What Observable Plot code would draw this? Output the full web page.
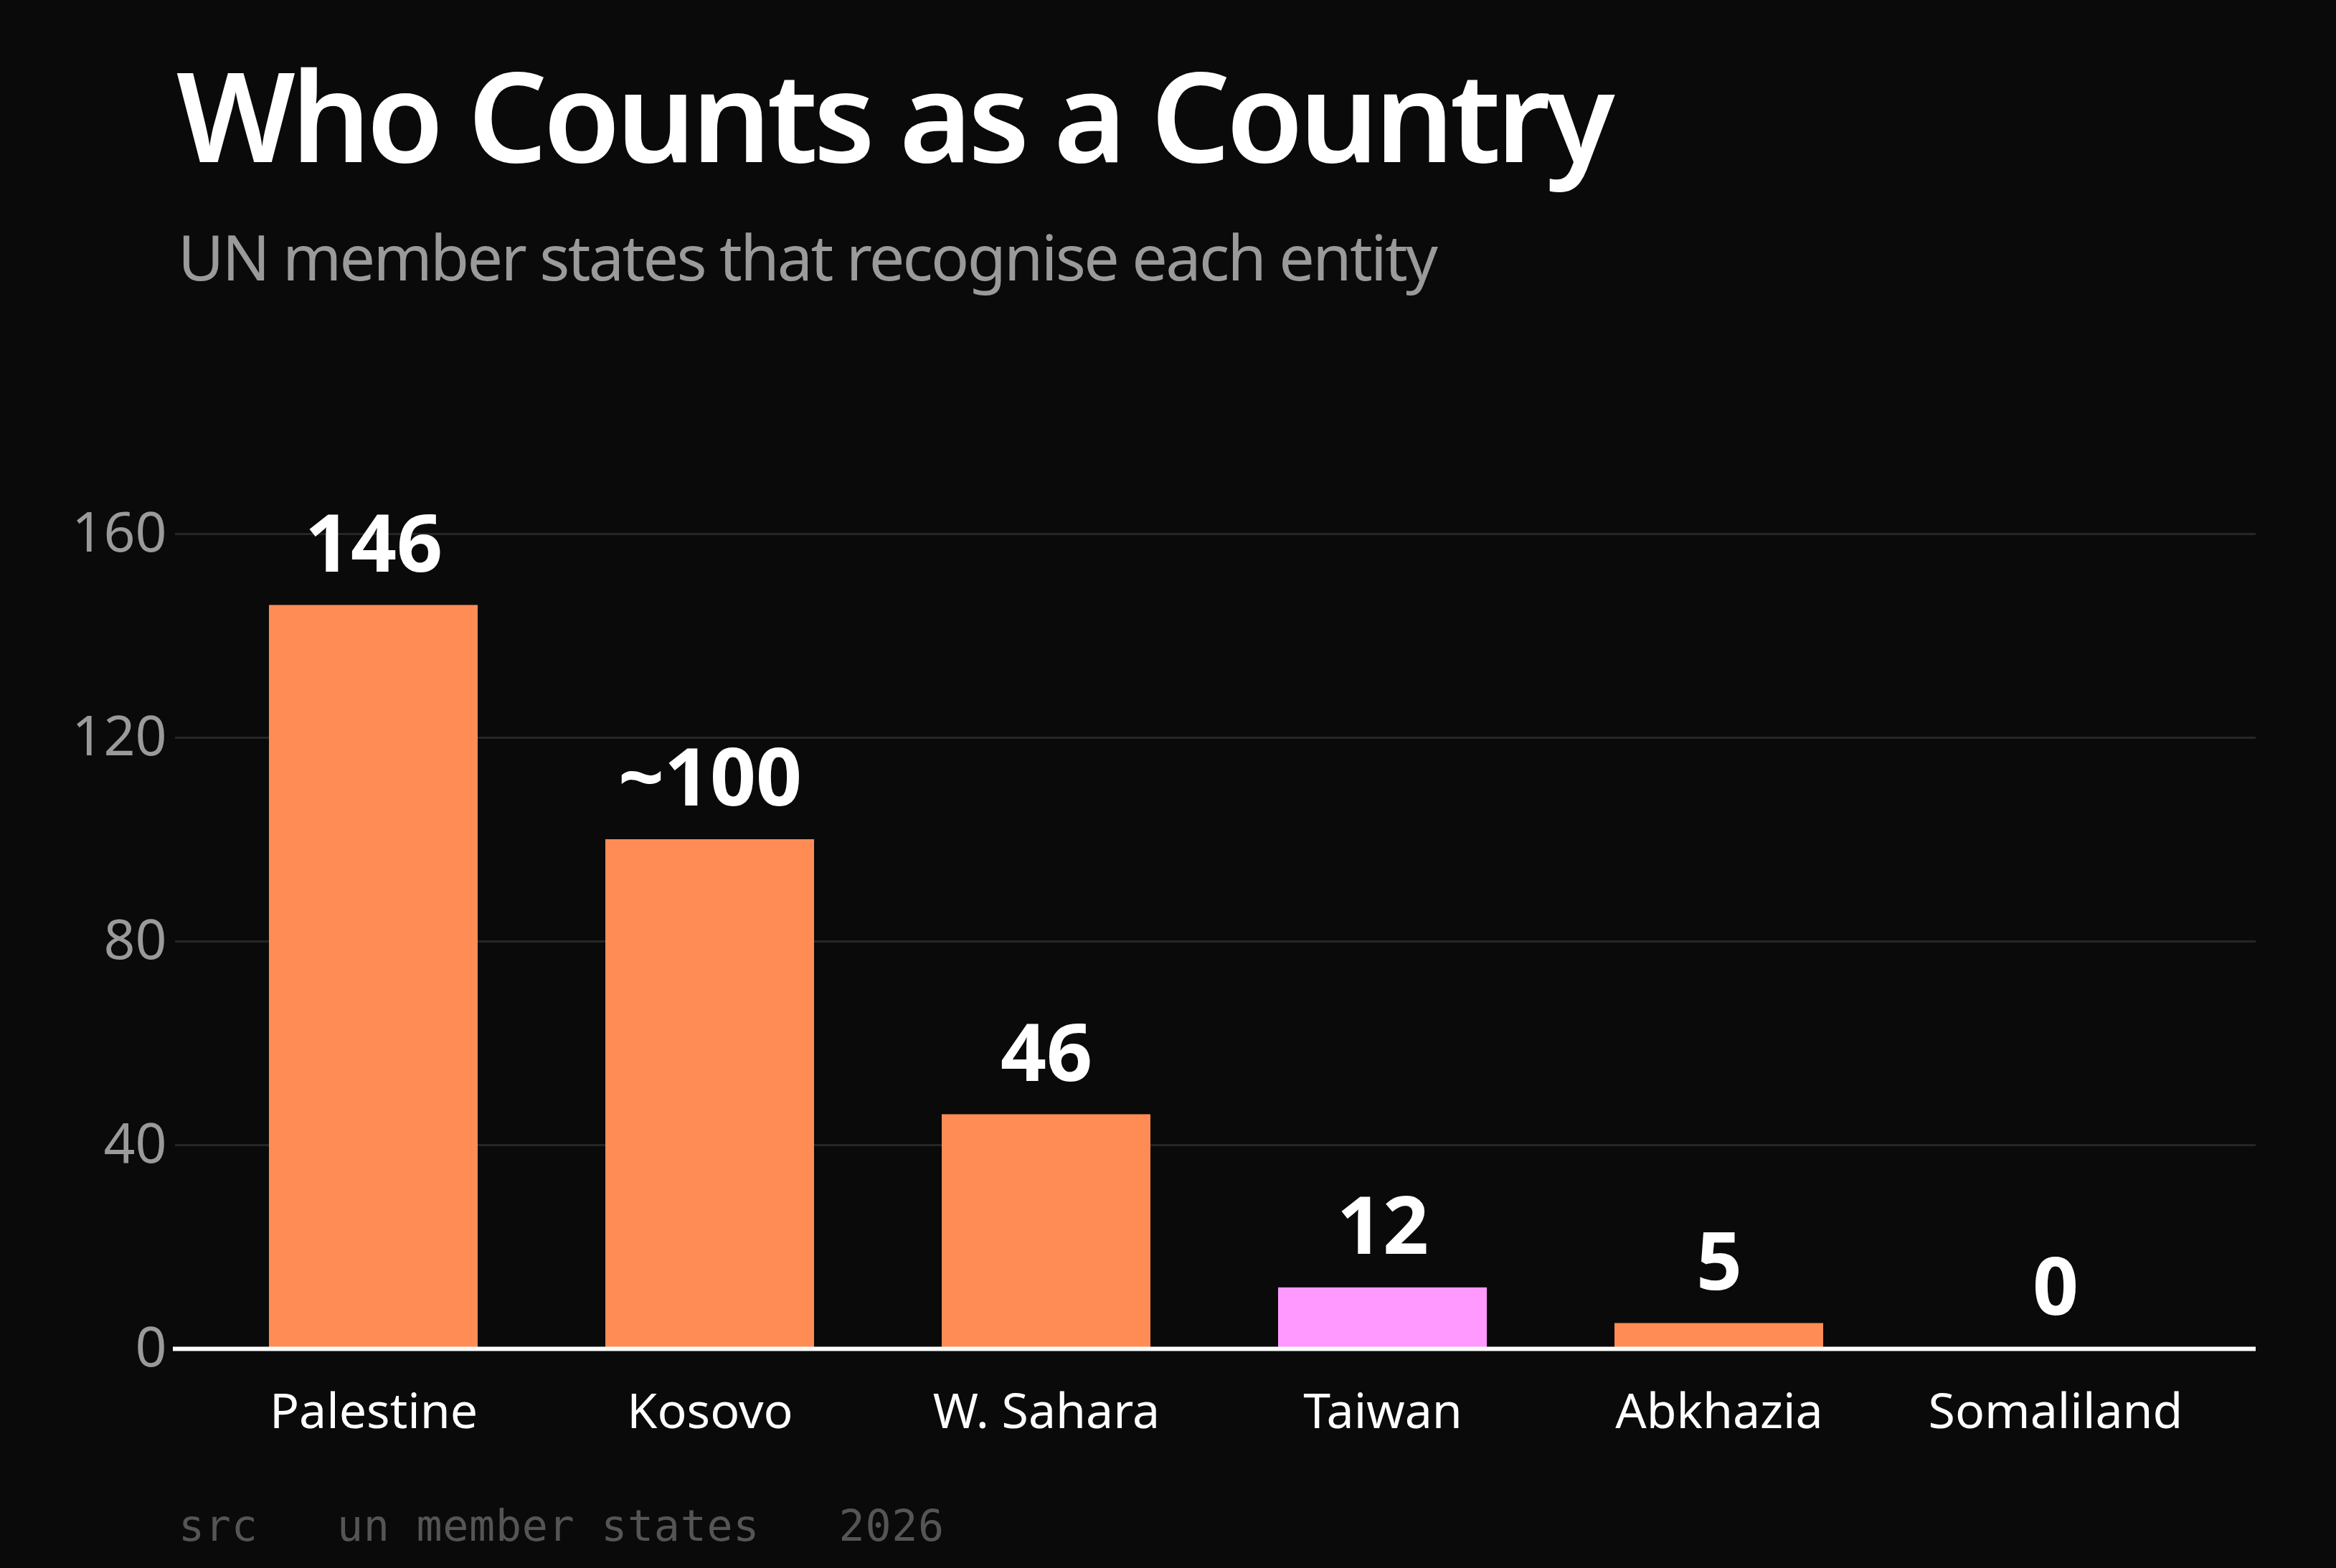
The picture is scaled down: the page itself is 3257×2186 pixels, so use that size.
<!DOCTYPE html>
<html>
<head>
<meta charset="utf-8">
<script src="https://cdn.jsdelivr.net/npm/d3@7"></script>
<script src="https://cdn.jsdelivr.net/npm/@observablehq/plot@0.6"></script>
<style>
  html, body { margin: 0; padding: 0; background: #0a0a0a; }
  body { width: 3257px; height: 2186px; position: relative; overflow: hidden; font-family: "Noto Sans", sans-serif; }
  #title { position: absolute; left: 246px; top: 72px; font-size: 174px; line-height: 1; font-weight: 600; letter-spacing: -5.8px; color: #ffffff; white-space: nowrap; }
  #subtitle { position: absolute; left: 248px; top: 313px; font-size: 88px; line-height: 1; font-weight: 400; letter-spacing: -2.7px; color: #9a9a9a; white-space: nowrap; }
  #chart { position: absolute; left: 0; top: 600px; }
  #footer { position: absolute; left: 249px; top: 2097px; font-family: "DejaVu Sans Mono", monospace; font-size: 60px; line-height: 1; letter-spacing: 0.7px; color: #555555; white-space: pre; }
</style>
</head>
<body>
<div id="title">Who Counts as a Country</div>
<div id="subtitle">UN member states that recognise each entity</div>
<div id="chart"></div>
<div id="footer">src   un member states   2026</div>
<script>
// ---- data ----
const entities = ["Palestine", "Kosovo", "W. Sahara", "Taiwan", "Abkhazia", "Somaliland"];
const recognitions = [146, 100, 46, 12, 5, 0];
const valueLabels = ["146", "~100", "46", "12", "5", "0"];
const highlighted = ["Taiwan"];
const yTicks = [0, 40, 80, 120, 160];
const gridTicks = [40, 80, 120, 160];

// ---- styles ----
const ORANGE = "#ff8c55";
const PINK = "#ff99ff";

const rows = entities.map((e, i) => ({entity: e, value: recognitions[i], label: valueLabels[i]}));

const chart = Plot.plot({
  width: 3257,
  height: 1500,
  marginTop: 144,
  marginBottom: 220,
  marginLeft: 241,
  marginRight: 112,
  style: {background: "transparent", fontFamily: "Noto Sans, sans-serif", color: "#ffffff"},
  x: {domain: entities, paddingInner: 0.38, paddingOuter: 0.285, label: null},
  y: {domain: [0, 160], label: null},
  marks: [
    Plot.ruleY(gridTicks, {stroke: "#262626", strokeWidth: 3, insetLeft: 3}),
    Plot.barY(rows, {x: "entity", y: "value", fill: d => highlighted.includes(d.entity) ? PINK : ORANGE}),
    Plot.ruleY([0], {stroke: "#ffffff", strokeWidth: 6}),
    Plot.text(rows, {x: "entity", y: "value", text: "label", dy: -83, fill: "#ffffff", fontSize: 112, fontWeight: 700}),
    Plot.axisY({ticks: yTicks, tickSize: 0, tickPadding: 9, fontSize: 77, fill: "#9a9a9a", label: null}),
    Plot.axisX({tickSize: 0, tickPadding: 62, fontSize: 68, fill: "#ffffff", label: null})
  ]
});
document.getElementById("chart").appendChild(chart);
</script>
</body>
</html>
